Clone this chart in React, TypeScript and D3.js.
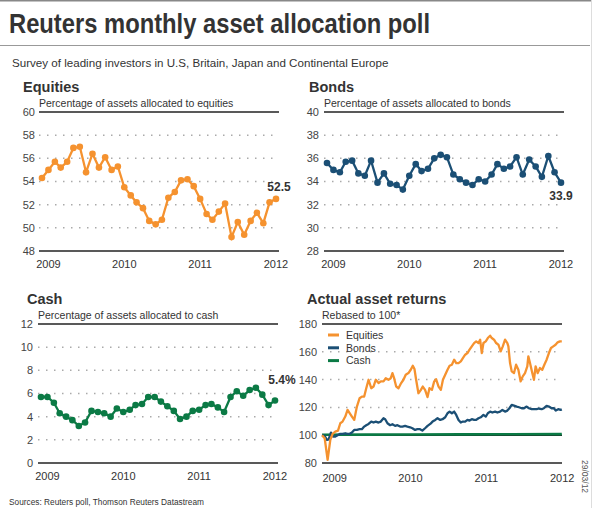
import { line, scaleLinear, scaleTime } from "d3";

const FONT = "'Liberation Sans', Arial, sans-serif";
const ORANGE = "#f5922f";
const NAVY = "#1b4f75";
const GREEN = "#0b7a45";

// monthly poll, Dec 2008 .. Jan 2012
const POLL_FIRST = new Date(2008, 11, 1);
const POLL_LAST = new Date(2012, 0, 1);
const YEARS = [2009, 2010, 2011, 2012];

const equitiesPoll = [54.3, 55.0, 55.7, 55.2, 55.7, 56.9, 57.0, 54.8, 56.4, 55.2, 56.1, 55.0, 55.3, 53.5, 52.8, 52.2, 51.7, 50.6, 50.3, 50.7, 52.6, 53.1, 54.1, 54.2, 53.6, 52.5, 51.2, 50.7, 51.4, 52.1, 49.2, 50.5, 49.4, 50.6, 51.3, 50.4, 52.2, 52.5];
const bondsPoll = [35.6, 35.0, 34.8, 35.7, 35.8, 34.7, 34.5, 35.8, 33.9, 34.7, 33.8, 33.7, 33.3, 34.5, 35.5, 34.9, 35.1, 36.0, 36.3, 36.1, 34.6, 34.2, 33.9, 33.7, 34.2, 34.0, 34.6, 35.5, 35.1, 35.3, 36.1, 34.6, 35.9, 35.3, 34.4, 36.2, 34.8, 33.9];
const cashPoll = [5.7, 5.7, 5.2, 4.3, 4.0, 3.7, 3.2, 3.5, 4.5, 4.4, 4.3, 4.0, 4.7, 4.4, 4.6, 5.0, 5.1, 5.7, 5.7, 5.3, 4.9, 4.5, 3.8, 4.0, 4.5, 4.6, 5.0, 5.1, 4.8, 4.4, 5.7, 6.2, 5.8, 6.3, 6.5, 5.9, 5.0, 5.4];

const equitiesTicks = [48, 50, 52, 54, 56, 58, 60];
const bondsTicks = [28, 30, 32, 34, 36, 38, 40];
const cashTicks = [0, 2, 4, 6, 8, 10, 12];
const returnsTicks = [80, 100, 120, 140, 160, 180];

// rebased returns (date, index)
const equitiesReturns: [string, number][] = [
  ["2008-11-01", 100], ["2008-11-14", 97.8], ["2008-11-28", 82.2], ["2008-12-11", 96.6], ["2008-12-22", 101],
  ["2009-01-04", 102.6], ["2009-01-17", 103.3], ["2009-01-28", 108.6], ["2009-02-08", 109.8], ["2009-02-21", 113.4],
  ["2009-03-04", 118.2], ["2009-03-14", 115.9], ["2009-03-25", 113.4], ["2009-04-05", 111], ["2009-04-18", 120.6],
  ["2009-05-01", 126.6], ["2009-05-12", 127.8], ["2009-05-23", 127.8], ["2009-06-02", 133.8], ["2009-06-13", 139.9],
  ["2009-06-26", 133.8], ["2009-07-07", 135], ["2009-07-18", 139.9], ["2009-07-31", 137.5], ["2009-08-11", 138.7],
  ["2009-08-24", 138.7], ["2009-09-04", 141], ["2009-09-17", 139.9], ["2009-09-28", 141], ["2009-10-06", 144.7],
  ["2009-10-14", 141], ["2009-10-24", 135], ["2009-11-04", 133.8], ["2009-11-17", 137.5], ["2009-11-28", 139.9],
  ["2009-12-09", 143.5], ["2009-12-22", 144.7], ["2010-01-02", 147.1], ["2010-01-12", 150], ["2010-01-20", 147.6],
  ["2010-01-28", 139.9], ["2010-02-08", 130.2], ["2010-02-20", 132.6], ["2010-03-01", 135], ["2010-03-12", 132.6],
  ["2010-03-24", 127.4], ["2010-04-02", 133.8], ["2010-04-14", 132.6], ["2010-04-25", 138.7], ["2010-05-04", 140.3],
  ["2010-05-16", 135], ["2010-05-27", 132.6], ["2010-06-06", 139.9], ["2010-06-17", 143.5], ["2010-06-28", 147.1],
  ["2010-07-08", 150], ["2010-07-19", 150.7], ["2010-07-30", 154.3], ["2010-08-09", 151.9], ["2010-08-20", 151.9],
  ["2010-08-31", 153.1], ["2010-09-10", 155.5], ["2010-09-21", 157.9], ["2010-10-02", 159.1], ["2010-10-12", 161.5],
  ["2010-10-23", 163.9], ["2010-11-03", 166.3], ["2010-11-13", 167.5], ["2010-11-24", 166.3], ["2010-12-02", 168.7],
  ["2010-12-10", 159.1], ["2010-12-18", 166.3], ["2010-12-29", 167.5], ["2011-01-08", 169.9], ["2011-01-19", 171.6],
  ["2011-01-27", 169.9], ["2011-02-07", 168.7], ["2011-02-17", 166.3], ["2011-02-28", 165.1], ["2011-03-11", 160.3],
  ["2011-03-21", 163.9], ["2011-04-01", 168.7], ["2011-04-12", 166.3], ["2011-04-17", 163.9], ["2011-04-25", 151.9],
  ["2011-05-03", 145.9], ["2011-05-14", 144.7], ["2011-05-24", 150.7], ["2011-06-04", 147.1], ["2011-06-15", 138.7],
  ["2011-06-25", 142.3], ["2011-07-06", 144.7], ["2011-07-17", 149.5], ["2011-07-22", 156.7], ["2011-07-30", 151.9],
  ["2011-08-10", 144.7], ["2011-08-18", 139.9], ["2011-08-26", 149.5], ["2011-09-05", 144.7], ["2011-09-16", 148.3],
  ["2011-09-27", 147.1], ["2011-10-07", 150.7], ["2011-10-18", 154.3], ["2011-10-29", 159.1], ["2011-11-08", 162.7],
  ["2011-11-19", 163.9], ["2011-11-30", 165.1], ["2011-12-10", 166.8], ["2011-12-21", 167.5], ["2011-12-30", 167.5],
];

const bondsReturns: [string, number][] = [
  ["2008-11-01", 100], ["2008-11-14", 99.3], ["2008-11-25", 96.6], ["2008-12-03", 97], ["2008-12-14", 101.9],
  ["2008-12-24", 99], ["2009-01-04", 99], ["2009-01-15", 100], ["2009-01-28", 101], ["2009-02-08", 101],
  ["2009-02-21", 101.4], ["2009-03-04", 101], ["2009-03-14", 101], ["2009-03-25", 101.9], ["2009-04-05", 103.8],
  ["2009-04-18", 103.8], ["2009-05-01", 104.3], ["2009-05-12", 104.3], ["2009-05-23", 106.2], ["2009-06-02", 107.2],
  ["2009-06-13", 108.1], ["2009-06-26", 109.8], ["2009-07-07", 109.1], ["2009-07-18", 109.8], ["2009-07-31", 109.1],
  ["2009-08-11", 109.8], ["2009-08-24", 112.2], ["2009-09-01", 111.5], ["2009-09-12", 108.6], ["2009-09-25", 107.2],
  ["2009-10-06", 107.9], ["2009-10-19", 106.7], ["2009-10-30", 107.2], ["2009-11-12", 106.2], ["2009-11-23", 106.2],
  ["2009-12-06", 106.7], ["2009-12-17", 106.2], ["2009-12-30", 105.7], ["2010-01-10", 105], ["2010-01-23", 103.8],
  ["2010-02-03", 104.3], ["2010-02-16", 104.3], ["2010-02-27", 103.3], ["2010-03-12", 105], ["2010-03-24", 106.7],
  ["2010-04-06", 108.1], ["2010-04-17", 109.8], ["2010-04-30", 111], ["2010-05-11", 112.2], ["2010-05-24", 111],
  ["2010-06-04", 111.5], ["2010-06-17", 112.9], ["2010-06-28", 115.8], ["2010-07-08", 117], ["2010-07-19", 115.8],
  ["2010-07-30", 117], ["2010-08-09", 114.6], ["2010-08-20", 111], ["2010-08-31", 109.1], ["2010-09-10", 109.8],
  ["2010-09-21", 109.8], ["2010-10-02", 111], ["2010-10-12", 110.5], ["2010-10-23", 111.5], ["2010-11-03", 111],
  ["2010-11-13", 111], ["2010-11-24", 112.2], ["2010-12-05", 112.9], ["2010-12-18", 114.6], ["2010-12-29", 113.4],
  ["2011-01-08", 115.8], ["2011-01-19", 117], ["2011-01-30", 116.3], ["2011-02-12", 117], ["2011-02-23", 116.3],
  ["2011-03-08", 117], ["2011-03-19", 118.2], ["2011-04-01", 117], ["2011-04-12", 117.7], ["2011-04-22", 119.4],
  ["2011-05-03", 121.8], ["2011-05-14", 121.3], ["2011-05-27", 120.6], ["2011-06-07", 120.1], ["2011-06-20", 119.4],
  ["2011-07-01", 119.4], ["2011-07-14", 120.6], ["2011-07-25", 119.4], ["2011-08-07", 118.7], ["2011-08-18", 118.7],
  ["2011-08-31", 118.7], ["2011-09-11", 119.2], ["2011-09-24", 118.7], ["2011-10-05", 119.4], ["2011-10-18", 121.1],
  ["2011-10-29", 120.6], ["2011-11-11", 119.4], ["2011-11-22", 119.4], ["2011-12-01", 117.7], ["2011-12-13", 118.7],
  ["2011-12-24", 118.2], ["2011-12-30", 118.6],
];

const cashReturns: [string, number][] = [
  ["2008-11-01", 100.3], ["2009-06-01", 100.4], ["2010-01-01", 100.5], ["2010-09-01", 100.6],
  ["2011-05-01", 100.7], ["2011-12-30", 100.8],
];

const legendItems = [
  { label: "Equities", color: ORANGE },
  { label: "Bonds", color: NAVY },
  { label: "Cash", color: GREEN },
];

type PollProps = {
  title: string;
  subtitle: string;
  values: number[];
  ticks: number[];
  color: string;
  left: number;
  right: number;
  top: number;
  bottom: number;
  titleX: number;
  subtitleX: number;
  labelX: number;
  endLabel: string;
  endDx: number;
  endDy: number;
};

function PollPanel(p: PollProps) {
  const months = p.values.map((_, i) => new Date(2008, 11 + i, 1));
  const x = scaleTime().domain([POLL_FIRST, POLL_LAST]).range([p.left + 3, p.right - 3]);
  const y = scaleLinear().domain([p.ticks[0], p.ticks[p.ticks.length - 1]]).range([p.bottom, p.top]);
  const path = line<number>().x((_, i) => x(months[i])).y((v) => y(v))(p.values);
  const last = p.values.length - 1;
  return (
    <g>
      <text x={p.titleX} y={p.top - 20.5} fontSize={14.5} fontWeight="bold" fill="#333">{p.title}</text>
      <text x={p.subtitleX} y={p.top - 5} fontSize={10.5} fill="#333">{p.subtitle}</text>
      {p.ticks.map((t, i) => {
        const edge = i === 0 || i === p.ticks.length - 1;
        return (
          <g key={t}>
            <line x1={p.left} x2={p.right} y1={y(t)} y2={y(t)}
              stroke={edge ? "#222" : "#aaa"} strokeWidth={edge ? 1.6 : 1.5}
              strokeDasharray={edge ? undefined : "1.5 6.5"} />
            <text x={p.labelX} y={y(t)} dy="0.36em" textAnchor="end" fontSize={11} fill="#444">{t}</text>
          </g>
        );
      })}
      {YEARS.map((yr) => (
        <text key={yr} x={x(new Date(yr, 0, 1))} y={p.bottom + 17} textAnchor="middle" fontSize={11} fill="#333">{yr}</text>
      ))}
      <path d={path ?? ""} fill="none" stroke={p.color} strokeWidth={2.3} />
      {p.values.map((v, i) => (
        <circle key={i} cx={x(months[i])} cy={y(v)} r={3.3} fill={p.color} />
      ))}
      <text x={x(months[last]) + p.endDx} y={y(p.values[last]) + p.endDy} textAnchor="middle"
        fontSize={12} fontWeight="bold" fill="#333">{p.endLabel}</text>
    </g>
  );
}

function ReturnsPanel() {
  const left = 322;
  const right = 562;
  const top = 324;
  const bottom = 463;
  const x = scaleTime().domain([new Date(2008, 10, 1), new Date(2011, 11, 31)]).range([left, right]);
  const y = scaleLinear().domain([80, 180]).range([bottom, top]);
  const mk = line<[string, number]>().x((d) => x(new Date(d[0]))).y((d) => y(d[1]));
  return (
    <g>
      <text x={307} y={top - 20.5} fontSize={14.5} fontWeight="bold" fill="#333">Actual asset returns</text>
      <text x={322} y={top - 5} fontSize={10.5} fill="#333">Rebased to 100*</text>
      {returnsTicks.map((t) => {
        const solid = t === 80 || t === 180 || t === 100;
        return (
          <g key={t}>
            <line x1={left} x2={right} y1={y(t)} y2={y(t)} stroke={solid ? "#222" : "#aaa"}
              strokeWidth={solid ? 1.6 : 1.5} strokeDasharray={solid ? undefined : "1.5 6.5"} />
            <text x={317} y={y(t)} dy="0.36em" textAnchor="end" fontSize={11} fill="#444">{t}</text>
          </g>
        );
      })}
      {YEARS.map((yr) => (
        <text key={yr} x={x(new Date(yr, 0, 1))} y={bottom + 18.5} textAnchor="middle" fontSize={11} fill="#333">{yr}</text>
      ))}
      <path d={mk(cashReturns) ?? ""} fill="none" stroke={GREEN} strokeWidth={2.6} />
      <path d={mk(bondsReturns) ?? ""} fill="none" stroke={NAVY} strokeWidth={2.3} strokeLinejoin="round" />
      <path d={mk(equitiesReturns) ?? ""} fill="none" stroke={ORANGE} strokeWidth={2.3} strokeLinejoin="round" />
      {legendItems.map((item, i) => (
        <g key={item.label} transform={`translate(328,${335 + i * 12.8})`}>
          <line x1={0} x2={11} y1={0} y2={0} stroke={item.color} strokeWidth={3} />
          <text x={18} y={0} dy="0.36em" fontSize={10.5} fill="#333">{item.label}</text>
        </g>
      ))}
    </g>
  );
}

export default function App() {
  return (
    <svg width={593} height={508} viewBox="0 0 593 508" fontFamily={FONT}
      style={{ position: "absolute", left: 0, top: 0, background: "#fff" }}>
      <rect x={0} y={0} width={593} height={508} fill="#fff" />
      <line x1={0} x2={592} y1={0.75} y2={0.75} stroke="#888" strokeWidth={1.5} />
      <line x1={591.5} x2={591.5} y1={0} y2={508} stroke="#ddd" strokeWidth={1} />
      <text x={9} y={33.3} fontSize={28} fontWeight="bold" fill="#333" textLength={421} lengthAdjust="spacingAndGlyphs">
        Reuters monthly asset allocation poll
      </text>
      <line x1={0} x2={590} y1={45.5} y2={45.5} stroke="#999" strokeWidth={1} />
      <text x={12} y={66.5} fontSize={11.6} fill="#333">
        Survey of leading investors in U.S, Britain, Japan and Continental Europe
      </text>

      <PollPanel title="Equities" subtitle="Percentage of assets allocated to equities" values={equitiesPoll}
        ticks={equitiesTicks} color={ORANGE} left={39} right={279} top={112} bottom={251}
        titleX={23} subtitleX={39} labelX={35} endLabel="52.5" endDx={3} endDy={-8} />
      <PollPanel title="Bonds" subtitle="Percentage of assets allocated to bonds" values={bondsPoll}
        ticks={bondsTicks} color={NAVY} left={324} right={564} top={112} bottom={251}
        titleX={309} subtitleX={324} labelX={319} endLabel="33.9" endDx={0} endDy={17.5} />
      <PollPanel title="Cash" subtitle="Percentage of assets allocated to cash" values={cashPoll}
        ticks={cashTicks} color={GREEN} left={38} right={278} top={324} bottom={463}
        titleX={27} subtitleX={38} labelX={33} endLabel="5.4%" endDx={7} endDy={-16} />
      <ReturnsPanel />

      <text x={9} y={505} fontSize={8.3} fill="#333">Sources: Reuters poll, Thomson Reuters Datastream</text>
      <text transform="translate(582,460) rotate(90)" fontSize={8.5} fill="#555">29/03/12</text>
    </svg>
  );
}
